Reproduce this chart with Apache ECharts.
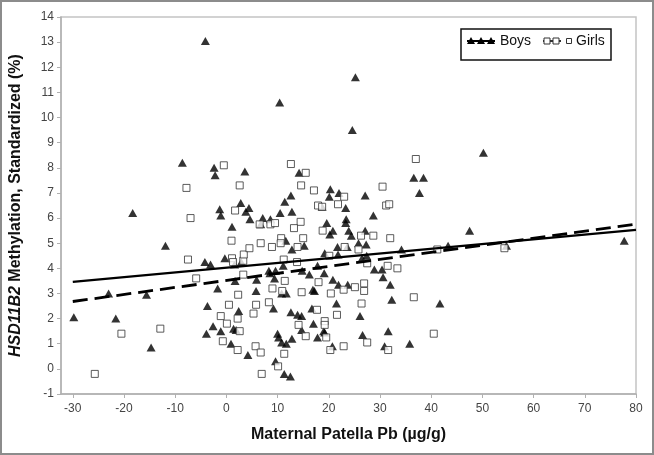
<!DOCTYPE html>
<html><head><meta charset="utf-8">
<script src="https://cdn.jsdelivr.net/npm/echarts@6/dist/echarts.min.js"></script>
<style>html,body{margin:0;padding:0;background:#fff}#c{width:654px;height:455px}</style>
</head><body><div id="c"></div>
<script>
const xTicks = [-30,-20,-10,0,10,20,30,40,50,60,70,80];
const yTicks = [-1,0,1,2,3,4,5,6,7,8,9,10,11,12,13,14];
const xRange = [-32.3, 80];
const boys = [
[-4.1,13.05],[25.2,11.6],[10.4,10.6],[24.6,9.5],[50.2,8.6],[-8.6,8.2],[-2.4,8.0],[-2.2,7.7],[3.6,7.85],[14.2,7.8],
[36.6,7.6],[38.5,7.6],[37.7,7.0],[20.3,7.15],[22.0,7.0],[20.1,6.85],[12.6,6.9],[27.1,6.9],[2.8,6.6],[11.4,6.65],
[-18.3,6.2],[-1.3,6.35],[4.4,6.4],[3.8,6.25],[10.5,6.2],[12.8,6.25],[-1.1,6.1],[18.7,6.45],[23.3,6.4],[28.7,6.1],
[4.6,5.95],[7.1,6.0],[8.6,5.95],[6.7,5.75],[19.6,5.8],[23.4,5.95],[23.3,5.8],[1.1,5.65],[20.8,5.5],[20.2,5.35],
[23.9,5.5],[24.4,5.3],[27.1,5.5],[47.5,5.5],[77.7,5.1],[11.6,5.1],[-11.9,4.9],[12.8,4.75],[15.2,4.9],[21.7,4.85],
[23.6,4.85],[25.8,5.0],[27.3,4.95],[34.2,4.75],[43.3,4.9],[54.7,4.9],[19.2,4.6],[21.8,4.55],[27.4,4.5],[26.5,4.4],
[-0.3,4.4],[-4.2,4.25],[-3.1,4.15],[1.6,4.15],[2.9,4.25],[11.1,4.1],[17.8,4.1],[8.3,3.9],[8.5,3.8],[9.6,3.9],
[14.8,3.9],[19.1,3.8],[28.9,3.95],[30.4,3.95],[30.6,3.65],[9.4,3.6],[1.7,3.5],[5.9,3.55],[20.8,3.55],[16.2,3.75],
[32.0,3.35],[21.9,3.35],[23.7,3.35],[-1.7,3.2],[5.8,3.1],[16.9,3.15],[17.2,3.1],[11.7,3.0],[10.8,3.0],[-23.0,3.0],
[-15.6,2.95],[32.3,2.75],[21.5,2.6],[41.7,2.6],[-3.7,2.5],[9.2,2.4],[16.7,2.4],[2.4,2.3],[12.6,2.25],[13.9,2.15],
[14.7,2.1],[26.1,2.1],[-29.8,2.05],[-21.6,2.0],[-2.6,1.7],[17.0,1.8],[-1.1,1.5],[1.4,1.6],[1.9,1.55],[14.7,1.55],
[19.0,1.5],[19.2,1.45],[31.6,1.5],[-3.9,1.4],[10.0,1.4],[10.2,1.25],[17.8,1.25],[26.6,1.35],[12.8,1.2],[10.8,1.05],
[11.7,1.0],[0.9,1.0],[-14.7,0.85],[20.7,0.9],[30.9,0.9],[35.8,1.0],[4.2,0.55],[9.6,0.3],[11.3,-0.2],[12.5,-0.3]
];
const girls = [
[-25.7,-0.2],[-20.5,1.4],[-12.9,1.6],[-5.9,3.6],[-7.5,4.35],[-7.0,6.0],[-7.8,7.2],[-0.5,8.1],[2.6,7.3],[1.7,6.3],
[1.0,5.1],[1.1,4.4],[1.3,4.25],[3.3,4.3],[3.4,4.55],[4.5,4.8],[3.3,3.75],[2.3,2.95],[0.5,2.55],[-1.1,2.1],
[0.1,1.8],[2.2,2.0],[2.6,1.5],[-0.7,1.1],[2.2,0.75],[5.3,2.2],[5.8,2.55],[5.7,0.9],[6.7,0.65],[6.9,-0.2],
[6.5,5.75],[8.6,5.75],[9.5,5.8],[6.7,5.0],[8.9,4.85],[10.7,5.2],[10.6,5.0],[11.2,4.35],[12.6,8.15],[15.5,7.8],
[14.6,7.3],[17.1,7.1],[17.9,6.5],[18.7,6.45],[21.8,6.55],[23.0,6.85],[30.5,7.25],[31.2,6.5],[31.8,6.55],[37.0,8.35],
[14.5,5.85],[13.2,5.6],[15.0,5.2],[13.9,4.85],[18.8,5.5],[20.1,4.5],[23.1,4.85],[26.3,5.3],[25.8,4.75],[28.7,5.3],
[32.0,5.2],[27.5,4.2],[13.8,4.25],[31.5,4.1],[33.4,4.0],[41.2,4.75],[54.3,4.8],[11.4,3.5],[9.0,3.2],[10.9,3.1],
[14.7,3.05],[18.0,3.45],[20.4,3.0],[22.9,3.15],[25.1,3.25],[26.9,3.4],[26.9,3.1],[8.3,2.65],[26.4,2.6],[36.6,2.85],
[14.1,1.75],[17.7,2.35],[19.2,1.9],[19.2,1.75],[21.6,2.15],[15.5,1.3],[19.5,1.25],[10.1,0.1],[11.3,0.6],[20.3,0.75],
[22.9,0.9],[27.5,1.05],[31.6,0.75],[40.5,1.4]
];
const boysFit = [[-30,3.46],[80,5.53]];
const girlsFit = [[-30,2.68],[80,5.76]];

const chart = echarts.init(document.getElementById('c'), null, {renderer:'canvas'});
const F = 'Liberation Sans, Arial, sans-serif';
const tri = (x,y)=>({type:'polygon',shape:{points:[[x,y-4],[x-4,y+3],[x+4,y+3]]},style:{fill:'#000'}});
const sq = (x,y,s)=>({type:'rect',shape:{x:x-s/2,y:y-s/2,width:s,height:s},style:{fill:'#fff',stroke:'#333',lineWidth:1}});
chart.setOption({
  animation:false,
  grid:{left:54,right:18,top:17,bottom:61,show:true,borderColor:'#c4c4c4',borderWidth:1.5},
  xAxis:{type:'value',min:xRange[0],max:xRange[1],
    axisLine:{show:true,onZero:false,lineStyle:{color:'#b0b0b0',width:1.5}},
    axisTick:{show:true,length:4,customValues:xTicks,lineStyle:{color:'#b0b0b0'}},
    axisLabel:{color:'#444',fontFamily:F,fontSize:12,margin:9,customValues:xTicks},
    splitLine:{show:false},
    name:'Maternal Patella Pb (µg/g)',nameLocation:'middle',nameGap:33,
    nameTextStyle:{fontFamily:F,fontWeight:'bold',fontSize:16,color:'#111'}},
  yAxis:{type:'value',min:yTicks[0],max:yTicks[yTicks.length-1],interval:1,
    axisLine:{show:true,onZero:false,lineStyle:{color:'#b0b0b0',width:1.5}},
    axisTick:{show:true,length:4,lineStyle:{color:'#b0b0b0'}},
    axisLabel:{color:'#444',fontFamily:F,fontSize:12,margin:7},
    splitLine:{show:false},
    name:'{i|HSD11B2} Methylation, Standardized (%)',nameLocation:'middle',nameGap:37,
    nameTextStyle:{fontFamily:F,fontWeight:'bold',fontSize:16,color:'#111',
      rich:{i:{fontFamily:F,fontWeight:'bold',fontStyle:'italic',fontSize:16,color:'#111'}}}},
  series:[
    {type:'scatter',name:'Boys',data:boys,symbol:'triangle',symbolSize:[9,8],itemStyle:{color:'#000'},z:3},
    {type:'scatter',name:'Girls',data:girls,symbol:'rect',symbolSize:7,itemStyle:{color:'#fff',borderColor:'#333',borderWidth:1},z:3},
    {type:'line',name:'BoysFit',data:boysFit,showSymbol:false,lineStyle:{color:'#000',width:2.2,type:'solid'},z:4},
    {type:'line',name:'GirlsFit',data:girlsFit,showSymbol:false,lineStyle:{color:'#000',width:2.8,type:[15,7]},z:4}
  ],
  graphic:[
    {type:'rect',shape:{x:1,y:1,width:652,height:453},style:{fill:null,stroke:'#8c8c8c',lineWidth:2},silent:true},
    {type:'rect',shape:{x:461,y:29,width:150,height:31},style:{fill:'#fff',stroke:'#111',lineWidth:1.5},z:10},
    {type:'line',shape:{x1:467,y1:41,x2:495,y2:41},style:{stroke:'#000',lineWidth:2},z:11},
    Object.assign(tri(471,41),{z:12}),Object.assign(tri(481,41),{z:12}),Object.assign(tri(491,41),{z:12}),
    {type:'text',style:{x:500,y:41,text:'Boys',font:'14px '+F,fill:'#111',verticalAlign:'middle'},z:12},
    {type:'line',shape:{x1:543,y1:41,x2:561,y2:41},style:{stroke:'#333',lineWidth:2},z:11},
    Object.assign(sq(547,41,6),{z:12}),Object.assign(sq(556,41,6),{z:12}),Object.assign(sq(569,41,5),{z:12}),
    {type:'text',style:{x:576,y:41,text:'Girls',font:'14px '+F,fill:'#111',verticalAlign:'middle'},z:12}
  ]
});
</script></body></html>
